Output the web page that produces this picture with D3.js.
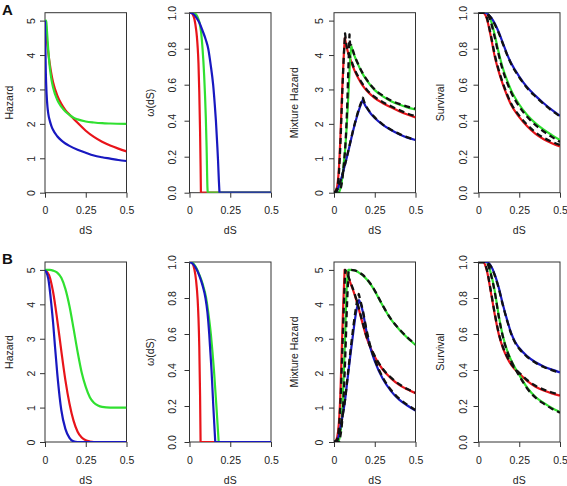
<!DOCTYPE html>
<html><head><meta charset="utf-8">
<script src="https://cdn.jsdelivr.net/npm/d3@7"></script>
<style>body{margin:0;background:#fff}svg{display:block}text{font-family:"Liberation Sans",Arial,sans-serif}</style>
</head><body><svg id="c" width="567" height="486"></svg>
<script>
// ---------- tick labels / titles ----------
const xTicks = [0, 0.25, 0.5];
const xTickLabels = ["0", "0.25", "0.5"];
const hazTicks = [0, 1, 2, 3, 4, 5];
const hazTickLabels = ["0", "1", "2", "3", "4", "5"];
const probTicks = [0, 0.2, 0.4, 0.6, 0.8, 1.0];
const probTickLabels = ["0.0", "0.2", "0.4", "0.6", "0.8", "1.0"];
const panelLetters = ["A", "B"];
const yTitles = ["Hazard", "ω(dS)", "Mixture Hazard", "Survival"];
const xTitle = "dS";

// ---------- Row A data: [dS, value] ----------
const hazA_blue = [[0,5],[0.002,4.3],[0.005,3.5],[0.01,2.85],[0.015,2.5],[0.02,2.3],[0.03,2.08],[0.04,1.93],[0.05,1.82],[0.075,1.64],[0.1,1.52],[0.125,1.43],[0.15,1.36],[0.2,1.25],[0.25,1.16],[0.3,1.08],[0.35,1.03],[0.4,0.99],[0.45,0.95],[0.5,0.92]];
const hazA_red = [[0,5],[0.005,4.75],[0.01,4.5],[0.02,4.08],[0.03,3.72],[0.04,3.43],[0.05,3.2],[0.075,2.83],[0.1,2.58],[0.125,2.4],[0.15,2.27],[0.175,2.15],[0.2,2.03],[0.25,1.8],[0.3,1.62],[0.35,1.48],[0.4,1.37],[0.45,1.28],[0.5,1.2]];
const hazA_green = [[0,5],[0.008,5],[0.012,4.7],[0.02,4.15],[0.03,3.62],[0.04,3.28],[0.05,3.05],[0.075,2.7],[0.1,2.5],[0.125,2.36],[0.15,2.26],[0.175,2.18],[0.2,2.13],[0.25,2.07],[0.3,2.04],[0.35,2.02],[0.4,2.01],[0.5,2.0]];

const omA_red = [[0,1],[0.01,0.999],[0.02,0.99],[0.03,0.965],[0.04,0.91],[0.045,0.87],[0.05,0.81],[0.055,0.72],[0.06,0.56],[0.065,0.33],[0.068,0.15],[0.07,0],[0.5,0]];
const omA_green = [[0,1],[0.02,1],[0.03,0.997],[0.04,0.99],[0.05,0.975],[0.06,0.95],[0.07,0.9],[0.08,0.8],[0.09,0.65],[0.1,0.42],[0.105,0.25],[0.11,0.03],[0.112,0],[0.5,0]];
const omA_blue = [[0,1],[0.02,0.995],[0.04,0.975],[0.06,0.945],[0.08,0.9],[0.1,0.85],[0.115,0.8],[0.13,0.71],[0.145,0.6],[0.155,0.49],[0.162,0.4],[0.17,0.27],[0.175,0.18],[0.18,0.07],[0.184,0],[0.5,0]];

const mixA_red = [[0,0],[0.01,0.05],[0.02,0.2],[0.03,0.7],[0.04,1.7],[0.05,2.95],[0.06,4.0],[0.067,4.5],[0.08,4.18],[0.1,3.88],[0.125,3.56],[0.15,3.32],[0.175,3.12],[0.2,2.97],[0.25,2.75],[0.3,2.6],[0.35,2.48],[0.4,2.37],[0.45,2.27],[0.5,2.19]];
const mixA_green = [[0,0],[0.03,0],[0.04,0.15],[0.05,0.4],[0.06,0.85],[0.07,1.35],[0.08,2.1],[0.09,3.0],[0.1,3.95],[0.107,4.25],[0.115,4.12],[0.125,3.98],[0.15,3.7],[0.175,3.46],[0.2,3.27],[0.25,2.98],[0.3,2.8],[0.35,2.66],[0.4,2.56],[0.45,2.48],[0.5,2.42]];
const mixA_blue = [[0,0],[0.01,0.02],[0.02,0.08],[0.03,0.2],[0.04,0.35],[0.05,0.5],[0.06,0.68],[0.08,1.05],[0.1,1.45],[0.12,1.85],[0.14,2.2],[0.16,2.5],[0.177,2.7],[0.19,2.55],[0.2,2.47],[0.225,2.3],[0.25,2.17],[0.3,1.97],[0.35,1.82],[0.4,1.7],[0.45,1.6],[0.5,1.53]];
const mixA_redDash = [[0,0],[0.02,0.15],[0.03,0.55],[0.04,1.5],[0.05,2.8],[0.06,3.95],[0.068,4.63],[0.078,4.25],[0.1,3.93],[0.125,3.6],[0.15,3.36],[0.175,3.16],[0.2,3.0],[0.25,2.78],[0.3,2.63],[0.35,2.51],[0.4,2.4],[0.45,2.3],[0.5,2.22]];
const mixA_greenDash = [[0,0],[0.03,0],[0.04,0.1],[0.05,0.35],[0.06,0.8],[0.07,1.4],[0.08,2.4],[0.088,3.6],[0.095,4.6],[0.1,4.3],[0.107,4.28],[0.115,4.15],[0.125,4.0],[0.15,3.72],[0.175,3.48],[0.2,3.29],[0.25,3.0],[0.3,2.82],[0.35,2.68],[0.4,2.58],[0.45,2.5],[0.5,2.44]];
const mixA_blueDash = [[0,0],[0.01,0.02],[0.02,0.08],[0.03,0.2],[0.04,0.35],[0.05,0.5],[0.06,0.68],[0.08,1.06],[0.1,1.47],[0.12,1.87],[0.14,2.23],[0.16,2.54],[0.177,2.76],[0.19,2.58],[0.2,2.49],[0.225,2.32],[0.25,2.19],[0.3,1.98],[0.35,1.83],[0.4,1.71],[0.45,1.61],[0.5,1.54]];

const survA_blue = [[0,1],[0.04,1],[0.06,0.99],[0.08,0.97],[0.1,0.94],[0.125,0.89],[0.15,0.83],[0.175,0.77],[0.2,0.72],[0.25,0.645],[0.3,0.584],[0.35,0.538],[0.4,0.497],[0.45,0.46],[0.5,0.427]];
const survA_green = [[0,1],[0.05,1],[0.06,0.99],[0.075,0.96],[0.1,0.875],[0.125,0.775],[0.15,0.69],[0.175,0.625],[0.2,0.57],[0.25,0.49],[0.3,0.43],[0.35,0.385],[0.4,0.35],[0.45,0.32],[0.5,0.292]];
const survA_red = [[0,1],[0.03,1],[0.04,0.99],[0.05,0.97],[0.075,0.87],[0.1,0.755],[0.125,0.67],[0.15,0.6],[0.175,0.54],[0.2,0.488],[0.25,0.42],[0.3,0.368],[0.35,0.327],[0.4,0.297],[0.45,0.275],[0.5,0.257]];
const survA_blueDash = [[0,1],[0.04,1],[0.06,0.99],[0.08,0.968],[0.1,0.935],[0.125,0.885],[0.15,0.826],[0.175,0.767],[0.2,0.716],[0.25,0.641],[0.3,0.58],[0.35,0.534],[0.4,0.493],[0.45,0.456],[0.5,0.424]];
const survA_greenDash = [[0,1],[0.045,1],[0.06,0.985],[0.075,0.95],[0.1,0.862],[0.125,0.762],[0.15,0.678],[0.175,0.613],[0.2,0.558],[0.25,0.479],[0.3,0.42],[0.35,0.375],[0.4,0.34],[0.45,0.31],[0.5,0.282]];
const survA_redDash = [[0,1],[0.03,1],[0.04,0.992],[0.05,0.975],[0.075,0.878],[0.1,0.765],[0.125,0.678],[0.15,0.608],[0.175,0.548],[0.2,0.496],[0.25,0.428],[0.3,0.376],[0.35,0.335],[0.4,0.305],[0.45,0.283],[0.5,0.265]];

// ---------- Row B data ----------
const hazB_blue = [[0,5],[0.02,4.75],[0.04,3.95],[0.05,3.45],[0.06,2.85],[0.075,2.0],[0.09,1.3],[0.1,0.93],[0.125,0.38],[0.15,0.12],[0.175,0.02],[0.2,0],[0.5,0]];
const hazB_red = [[0,5],[0.025,4.85],[0.05,4.35],[0.075,3.55],[0.1,2.65],[0.125,1.8],[0.15,1.12],[0.175,0.62],[0.2,0.3],[0.225,0.13],[0.25,0.05],[0.275,0.015],[0.3,0],[0.5,0]];
const hazB_green = [[0,5],[0.03,5],[0.05,4.98],[0.075,4.92],[0.1,4.77],[0.125,4.45],[0.15,3.95],[0.175,3.3],[0.2,2.62],[0.225,2.02],[0.25,1.6],[0.275,1.3],[0.3,1.14],[0.325,1.06],[0.35,1.02],[0.4,1.0],[0.5,1.0]];

const omB_red = [[0,1],[0.01,0.999],[0.02,0.99],[0.03,0.96],[0.04,0.9],[0.05,0.79],[0.055,0.69],[0.06,0.53],[0.065,0.25],[0.068,0],[0.5,0]];
const omB_blue = [[0,1],[0.02,0.99],[0.04,0.965],[0.06,0.925],[0.08,0.87],[0.098,0.8],[0.11,0.72],[0.121,0.6],[0.128,0.5],[0.135,0.4],[0.146,0.2],[0.152,0.1],[0.158,0],[0.5,0]];
const omB_green = [[0,1],[0.02,0.995],[0.04,0.97],[0.06,0.93],[0.08,0.88],[0.102,0.8],[0.118,0.7],[0.131,0.6],[0.141,0.5],[0.15,0.4],[0.165,0.2],[0.172,0.1],[0.179,0],[0.5,0]];

const mixB_red = [[0,0],[0.01,0.03],[0.02,0.15],[0.03,0.55],[0.04,1.5],[0.046,2.45],[0.056,3.9],[0.065,5.0],[0.08,4.88],[0.1,4.63],[0.125,4.3],[0.15,3.9],[0.175,3.45],[0.2,3.03],[0.25,2.48],[0.3,2.1],[0.35,1.85],[0.4,1.66],[0.45,1.53],[0.5,1.42]];
const mixB_green = [[0,0],[0.02,0],[0.03,0.05],[0.04,0.3],[0.05,0.8],[0.056,1.5],[0.067,2.9],[0.077,4.4],[0.088,5.0],[0.1,5.0],[0.125,4.99],[0.15,4.93],[0.175,4.85],[0.2,4.73],[0.225,4.58],[0.25,4.39],[0.275,4.17],[0.3,3.95],[0.35,3.56],[0.4,3.27],[0.45,3.03],[0.5,2.82]];
const mixB_blue = [[0,0],[0.02,0.05],[0.03,0.2],[0.04,0.45],[0.05,0.7],[0.067,1.18],[0.08,1.7],[0.1,2.5],[0.12,3.25],[0.13,3.6],[0.14,3.88],[0.154,4.12],[0.165,4.0],[0.175,3.82],[0.2,3.2],[0.225,2.7],[0.25,2.35],[0.3,1.83],[0.35,1.48],[0.4,1.23],[0.45,1.06],[0.5,0.91]];
const mixB_redDash = [[0,0],[0.01,0.02],[0.02,0.1],[0.03,0.4],[0.04,1.2],[0.05,2.5],[0.06,3.9],[0.069,5.0],[0.08,4.9],[0.1,4.66],[0.125,4.33],[0.15,3.93],[0.175,3.48],[0.2,3.06],[0.25,2.5],[0.3,2.12],[0.35,1.87],[0.4,1.68],[0.45,1.54],[0.5,1.43]];
const mixB_greenDash = [[0,0],[0.03,0],[0.04,0.2],[0.05,0.6],[0.06,1.4],[0.07,2.6],[0.08,4.0],[0.09,5.0],[0.1,5.0],[0.125,4.99],[0.15,4.94],[0.175,4.86],[0.2,4.74],[0.225,4.59],[0.25,4.4],[0.275,4.18],[0.3,3.96],[0.35,3.57],[0.4,3.28],[0.45,3.04],[0.5,2.84]];
const mixB_blueDash = [[0,0],[0.02,0.05],[0.03,0.2],[0.04,0.42],[0.05,0.68],[0.067,1.2],[0.08,1.75],[0.1,2.6],[0.12,3.4],[0.13,3.75],[0.14,4.05],[0.152,4.3],[0.165,4.05],[0.175,3.86],[0.2,3.25],[0.225,2.75],[0.25,2.4],[0.3,1.87],[0.35,1.51],[0.4,1.26],[0.45,1.08],[0.5,0.93]];

const survB_blue = [[0,1],[0.05,1],[0.06,0.995],[0.075,0.98],[0.1,0.93],[0.125,0.855],[0.15,0.763],[0.175,0.68],[0.2,0.606],[0.225,0.555],[0.25,0.522],[0.3,0.476],[0.35,0.443],[0.4,0.42],[0.45,0.402],[0.5,0.387]];
const survB_red = [[0,1],[0.03,1],[0.04,0.985],[0.05,0.957],[0.075,0.837],[0.1,0.707],[0.125,0.596],[0.15,0.522],[0.175,0.47],[0.2,0.43],[0.25,0.38],[0.3,0.338],[0.35,0.307],[0.4,0.286],[0.45,0.27],[0.5,0.257]];
const survB_green = [[0,1],[0.045,1],[0.06,0.985],[0.075,0.94],[0.1,0.837],[0.125,0.698],[0.15,0.587],[0.175,0.51],[0.2,0.455],[0.235,0.395],[0.25,0.372],[0.3,0.3],[0.35,0.25],[0.4,0.217],[0.45,0.189],[0.5,0.167]];
const survB_blueDash = [[0,1],[0.05,1],[0.06,0.993],[0.075,0.977],[0.1,0.925],[0.125,0.85],[0.15,0.758],[0.175,0.676],[0.2,0.602],[0.225,0.551],[0.25,0.518],[0.3,0.472],[0.35,0.44],[0.4,0.417],[0.45,0.399],[0.5,0.384]];
const survB_redDash = [[0,1],[0.03,1],[0.04,0.988],[0.05,0.962],[0.075,0.843],[0.1,0.713],[0.125,0.602],[0.15,0.527],[0.175,0.475],[0.2,0.435],[0.25,0.385],[0.3,0.343],[0.35,0.312],[0.4,0.291],[0.45,0.275],[0.5,0.262]];
const survB_greenDash = [[0,1],[0.045,1],[0.06,0.982],[0.075,0.935],[0.1,0.832],[0.125,0.693],[0.15,0.583],[0.175,0.506],[0.2,0.451],[0.235,0.391],[0.25,0.368],[0.3,0.296],[0.35,0.246],[0.4,0.213],[0.45,0.185],[0.5,0.163]];

// ---------- drawing ----------
const RED = "#e8141a", GREEN = "#30e030", BLUE = "#1818c0", BLACK = "#111";
const svg = d3.select("#c");
const W = 81.5, H = 180;
const lefts = [45, 189.5, 334, 478.5];
const tops = [12.7, 262];
const tickLabOff = [9.8, 13.5, 11.5, 12];
const titleOff = [32.5, 35.5, 36, 34.5];

const rows = [
  [
    {kind:"haz", s:[[hazA_red,RED],[hazA_green,GREEN],[hazA_blue,BLUE]]},
    {kind:"prob", cusp:"zero", s:[[omA_red,RED],[omA_green,GREEN],[omA_blue,BLUE]]},
    {kind:"haz", cusp:"max", s:[[mixA_red,RED],[mixA_green,GREEN],[mixA_blue,BLUE],[mixA_redDash,BLACK,1],[mixA_greenDash,BLACK,1],[mixA_blueDash,BLACK,1]]},
    {kind:"prob", s:[[survA_red,RED],[survA_green,GREEN],[survA_blue,BLUE],[survA_redDash,BLACK,1],[survA_greenDash,BLACK,1],[survA_blueDash,BLACK,1]]}
  ],
  [
    {kind:"haz", s:[[hazB_red,RED],[hazB_green,GREEN],[hazB_blue,BLUE]]},
    {kind:"prob", cusp:"zero", s:[[omB_red,RED],[omB_green,GREEN],[omB_blue,BLUE]]},
    {kind:"haz", cusp:"max", s:[[mixB_red,RED],[mixB_green,GREEN],[mixB_blue,BLUE],[mixB_redDash,BLACK,1],[mixB_greenDash,BLACK,1],[mixB_blueDash,BLACK,1]]},
    {kind:"prob", s:[[survB_red,RED],[survB_green,GREEN],[survB_blue,BLUE],[survB_redDash,BLACK,1],[survB_greenDash,BLACK,1],[survB_blueDash,BLACK,1]]}
  ]
];

const defs = svg.append("defs");
let clipId = 0;

rows.forEach((row, ri) => {
  const top = tops[ri];
  svg.append("text").attr("x", 2).attr("y", top + (ri === 0 ? 2.5 : 1.8))
    .attr("font-size", 15).attr("font-weight", "bold").attr("fill", "#111")
    .text(panelLetters[ri]);
  row.forEach((p, ci) => {
    const left = lefts[ci];
    const x = d3.scaleLinear().domain([0, 0.5]).range([left, left + W]);
    const y = d3.scaleLinear().domain(p.kind === "haz" ? [0, 5.23] : [0, 1]).range([top + H, top]);
    const g = svg.append("g");
    const id = "clip" + (clipId++);
    defs.append("clipPath").attr("id", id).append("rect")
      .attr("x", left).attr("y", top).attr("width", W).attr("height", H);

    // box
    g.append("rect").attr("x", left).attr("y", top).attr("width", W).attr("height", H)
      .attr("fill", "none").attr("stroke", "#333").attr("stroke-width", 1);

    // axes
    const ticks = p.kind === "haz" ? hazTicks : probTicks;
    const labs = p.kind === "haz" ? hazTickLabels : probTickLabels;
    const ax = g.append("g").attr("transform", `translate(${left},0)`)
      .call(d3.axisLeft(y).tickValues(ticks).tickFormat((d, i) => labs[i]).tickSize(5).tickSizeOuter(0));
    ax.select(".domain").remove();
    ax.selectAll("line").attr("stroke", "#333");
    ax.selectAll("text").attr("x", 0).attr("y", -tickLabOff[ci]).attr("dy", null)
      .attr("text-anchor", "middle").attr("transform", "rotate(-90)")
      .attr("font-size", 10.5).attr("fill", "#222").attr("font-family", null);
    ax.attr("font-family", null);

    const bx = g.append("g").attr("transform", `translate(0,${top + H})`)
      .call(d3.axisBottom(x).tickValues(xTicks).tickFormat((d, i) => xTickLabels[i]).tickSize(5).tickSizeOuter(0));
    bx.select(".domain").remove();
    bx.selectAll("line").attr("stroke", "#333");
    bx.selectAll("text").attr("y", 21.8).attr("dy", null)
      .attr("font-size", 10.5).attr("fill", "#222");
    bx.attr("font-family", null);

    // titles
    g.append("text").attr("x", left + W / 2).attr("y", top + H + 41.5)
      .attr("text-anchor", "middle").attr("font-size", 10.5).attr("fill", "#222").text(xTitle);
    const cy = top + H / 2, tx = left - titleOff[ci];
    g.append("text").attr("transform", `translate(${tx},${cy}) rotate(-90)`)
      .attr("text-anchor", "middle").attr("font-size", 10.5).attr("fill", "#222").text(yTitles[ci]);

    // lines
    const line = d3.line().x(d => x(d[0])).y(d => y(d[1])).curve(d3.curveMonotoneX);
    const lg = g.append("g").attr("clip-path", `url(#${id})`);
    p.s.forEach(([data, col, dashed]) => {
      let k = -1;
      if (p.cusp === "max") {
        k = d3.maxIndex(data, d => d[1]);
      } else if (p.cusp === "zero") {
        k = data.findIndex(d => d[1] === 0);
      }
      let dpath;
      if (k > 0 && k < data.length - 1) {
        dpath = line(data.slice(0, k + 1)) + line(data.slice(k)).replace(/^M/, "L");
      } else dpath = line(data);
      lg.append("path").attr("d", dpath).attr("fill", "none")
        .attr("stroke", col).attr("stroke-width", dashed ? 2.3 : 2.2)
        .attr("stroke-dasharray", dashed ? "6,4" : null)
        .attr("stroke-linejoin", "round");
    });
  });
});
</script></body></html>
